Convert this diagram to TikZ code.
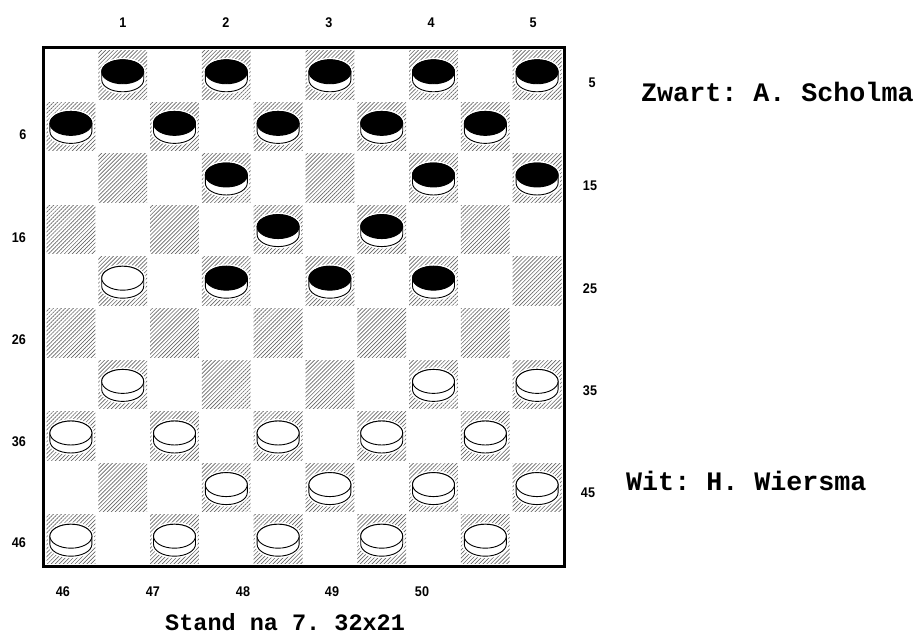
\documentclass[tikz,border=0pt]{standalone}
\usepackage{fontspec}
\setmainfont{Liberation Sans}
\setmonofont{Liberation Mono}
\usetikzlibrary{patterns.meta}
\newcommand\dpiece[2]{%
  \pgfmathtruncatemacro\pr{int((#1-1)/5)}%
  \pgfmathtruncatemacro\pk{mod(#1-1,5)}%
  \pgfmathtruncatemacro\pc{2*\pk+1-mod(\pr,2)}%
  \pgfmathsetmacro\px{45+(\pc+0.5)*51.8}%
  \pgfmathsetmacro\py{586-(\pr+0.5)*51.6}%
  \path[halo] (\px-21,\py+3) arc[start angle=180,end angle=0,x radius=21,y radius=12] -- (\px+21,\py-5) arc[start angle=0,end angle=-180,x radius=21,y radius=12] -- cycle;
  \draw[pcline,fill=white] (\px-21,\py+3) arc[start angle=180,end angle=0,x radius=21,y radius=12] -- (\px+21,\py-5) arc[start angle=0,end angle=-180,x radius=21,y radius=12] -- cycle;
  \draw[pcline,fill=#2] (\px,\py+3) ellipse[x radius=21,y radius=12];
}
\begin{document}
\begin{tikzpicture}[x=1pt,y=1pt,
  lbl/.style={font=\fontsize{14}{16}\selectfont\bfseries, inner sep=0},
  big/.style={font=\ttfamily\bfseries\fontsize{26.7}{30}\selectfont, anchor=base west, inner sep=0},
  dark/.style={pattern={Lines[angle=45,distance=2.8pt,line width=0.65pt]}, pattern color=black!60},
  frame/.style={line width=3pt},
  halo/.style={draw=white, line width=4pt, fill=white},
  pcline/.style={draw=black, line width=0.9pt}]
\useasboundingbox (0,0) rectangle (919,635);
\foreach \r in {0,...,9}{\foreach \c in {0,...,9}{
  \pgfmathtruncatemacro\odd{mod(\r+\c,2)}
  \ifnum\odd=1 \fill[dark] ({45+\c*51.8+1.5},{586-\r*51.6-1.5}) rectangle ({45+(\c+1)*51.8-1.5},{586-(\r+1)*51.6+1.5}); \fi
}}
\foreach \n in {1,...,10,12,14,15,18,19,22,23,24}{\dpiece{\n}{black}}
\foreach \n in {21,31,34,35,36,37,38,39,40,42,43,44,45,46,47,48,49,50}{\dpiece{\n}{white}}
\draw[frame] (43.5,587.5) rectangle (564.5,68.5);
% top labels
\node[lbl] (t1) at (123,612) {\scalebox{0.9}[1]{1}};
\node[lbl] (t2) at (226,612) {\scalebox{0.9}[1]{2}};
\node[lbl] (t3) at (329,612) {\scalebox{0.9}[1]{3}};
\node[lbl] (t4) at (431,612) {\scalebox{0.9}[1]{4}};
\node[lbl] (t5) at (533,612) {\scalebox{0.9}[1]{5}};
% right labels
\node[lbl] (r5) at (592,552) {\scalebox{0.9}[1]{5}};
\node[lbl] (r15) at (590,449) {\scalebox{0.9}[1]{15}};
\node[lbl] (r25) at (590,346) {\scalebox{0.9}[1]{25}};
\node[lbl] (r35) at (590,244) {\scalebox{0.9}[1]{35}};
\node[lbl] (r45) at (588,142) {\scalebox{0.9}[1]{45}};
% left labels
\node[lbl] (l6) at (23,500) {\scalebox{0.9}[1]{6}};
\node[lbl] (l16) at (19,397) {\scalebox{0.9}[1]{16}};
\node[lbl] (l26) at (19,295) {\scalebox{0.9}[1]{26}};
\node[lbl] (l36) at (19,193) {\scalebox{0.9}[1]{36}};
\node[lbl] (l46) at (19,92) {\scalebox{0.9}[1]{46}};
% bottom labels
\node[lbl] (b46) at (63,43) {\scalebox{0.9}[1]{46}};
\node[lbl] (b47) at (153,43) {\scalebox{0.9}[1]{47}};
\node[lbl] (b48) at (243,43) {\scalebox{0.9}[1]{48}};
\node[lbl] (b49) at (332,43) {\scalebox{0.9}[1]{49}};
\node[lbl] (b50) at (422,43) {\scalebox{0.9}[1]{50}};
% texts
\node[big] (zwart) at (641,533) {Zwart: A. Scholma};
\node[big] (wit) at (626,144) {Wit: H. Wiersma};
\node[big, font=\ttfamily\bfseries\fontsize{23.5}{27}\selectfont] (stand) at (165,5) {Stand na 7. 32x21};
\end{tikzpicture}
\end{document}
